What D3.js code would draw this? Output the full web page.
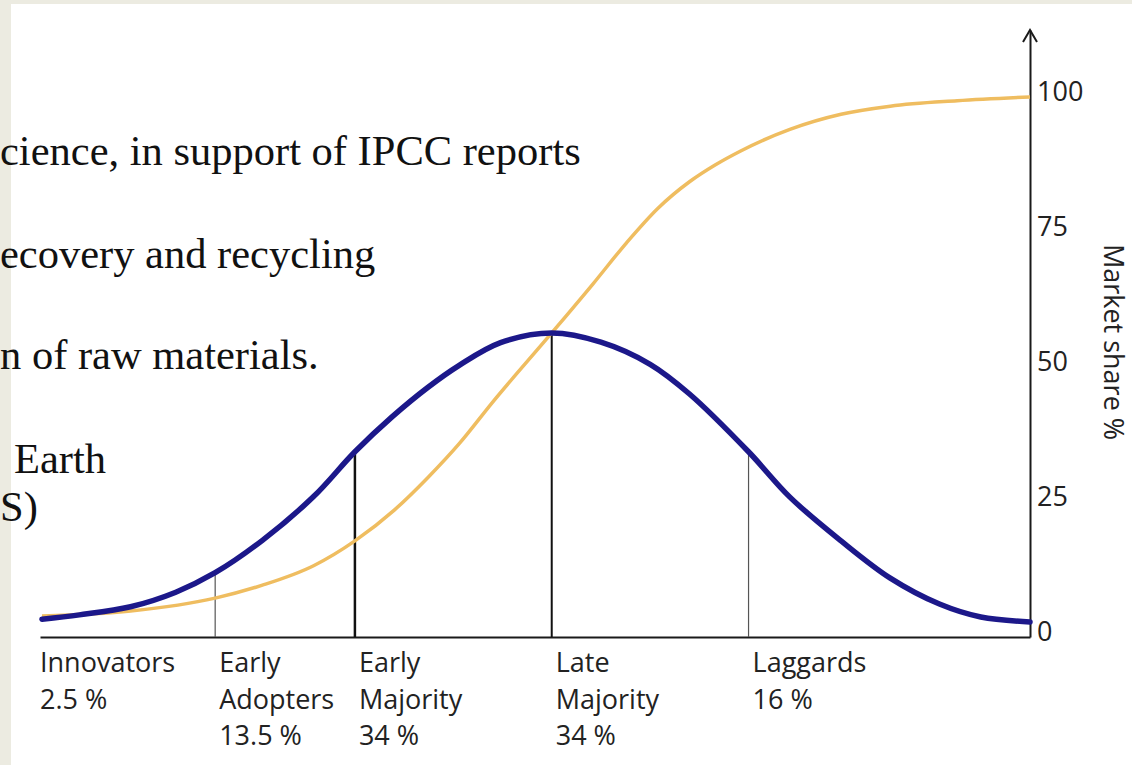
<!DOCTYPE html>
<html lang="en">
<head>
  <meta charset="UTF-8">
  <title>Diffusion of Innovations</title>
  <script src="https://d3js.org/d3.v7.min.js"></script>
  <style>
    body {
      margin: 0;
      background: #ecebe1;
    }
    .slide-text {
      font-family: "Liberation Serif", serif;
      font-size: 42.5px;
      fill: #111;
    }
    .label {
      font-family: "Open Sans", sans-serif;
      font-size: 27px;
      fill: #222;
    }
    .y-axis text {
      font-family: "Open Sans", sans-serif;
      font-size: 27px;
      fill: #222;
    }
  </style>
</head>
<body>
  <svg width="1132" height="765"></svg>

  <script>
    // adoption curve (bell), x in standard deviations from the mean
    const adoptionSd    = [-2.59, -2.40, -2.14, -1.91, -1.71, -1.47, -1.21, -1.00, -0.81, -0.63, -0.47, -0.26, 0, 0.25, 0.50, 0.70, 1.00, 1.21, 1.47, 1.72, 1.97, 2.18, 2.43];
    const adoptionShare = [3.3, 4.1, 5.6, 8.3, 11.9, 17.9, 26.0, 34.3, 40.8, 46.2, 50.3, 54.5, 56.3, 54.6, 50.5, 45.0, 34.3, 25.9, 17.8, 10.9, 6.1, 3.7, 2.8];

    // cumulative market share (S curve)
    const cumulativeSd    = [-2.59, -2.14, -1.71, -1.47, -1.21, -1.00, -0.80, -0.63, -0.47, -0.30, 0, 0.21, 0.38, 0.54, 0.70, 0.83, 0.96, 1.21, 1.47, 1.72, 2.06, 2.43];
    const cumulativeShare = [3.9, 4.8, 7.2, 9.6, 13.2, 17.8, 23.5, 29.5, 35.8, 43.5, 56.3, 65.4, 73.0, 79.4, 84.3, 87.4, 90.0, 94.0, 96.8, 98.3, 99.3, 100];

    // segment boundaries and where they meet the bell curve
    const boundarySd    = [-1.71, -1.00, 0, 1.00];
    const boundaryShare = [11.9, 34.3, 56.3, 34.3];

    const segmentNames  = [["Innovators"], ["Early", "Adopters"], ["Early", "Majority"], ["Late", "Majority"], ["Laggards"]];
    const segmentShares = ["2.5 %", "13.5 %", "34 %", "34 %", "16 %"];

    const yTicks = [0, 25, 50, 75, 100];

    const slideLines = [
      {text: "cience, in support of IPCC reports", x: 0, y: 165},
      {text: "ecovery and recycling", x: 0, y: 268},
      {text: "n of raw materials.", x: 0, y: 369},
      {text: "Earth", x: 14, y: 473},
      {text: "S)", x: 0, y: 521}
    ];

    const svg = d3.select("svg"),
          margin = {top: 30, right: 102, bottom: 128, left: 40},
          width = +svg.attr("width") - margin.left - margin.right,
          height = +svg.attr("height") - margin.top - margin.bottom;

    // slide background + white picture area
    svg.append("rect")
       .attr("x", 11).attr("y", 4)
       .attr("width", 1132).attr("height", 765)
       .attr("fill", "#fff");

    svg.selectAll(".slide-text")
       .data(slideLines)
       .enter()
       .append("text")
         .attr("class", "slide-text")
         .attr("x", d => d.x)
         .attr("y", d => d.y)
         .text(d => d.text);

    const g = svg.append("g")
                 .attr("transform", `translate(${margin.left},${margin.top})`);

    const x = d3.scaleLinear()
                .domain([-2.6, 2.43])
                .range([0, width]);

    const y = d3.scaleLinear()
                .domain([0, 112.4])
                .range([height, 0]);

    // X baseline
    g.append("g")
      .attr("transform", `translate(0,${height})`)
      .call(d3.axisBottom(x).tickValues([]).tickSizeOuter(0))
      .select(".domain")
        .attr("stroke", "#1a1a1a")
        .attr("stroke-width", 2);

    // Y axis on the right
    const yAxis = g.append("g")
      .attr("class", "y-axis")
      .attr("transform", `translate(${width},0)`)
      .call(d3.axisRight(y).tickValues(yTicks).tickSize(0).tickPadding(7).tickSizeOuter(0));
    yAxis.select(".domain")
      .attr("stroke", "#1a1a1a")
      .attr("stroke-width", 2);
    yAxis.selectAll("text")
      .attr("dy", "0.12em");

    // arrow head
    g.append("path")
      .attr("d", `M${width - 7},${y(112.4) + 12}L${width},${y(112.4)}L${width + 7},${y(112.4) + 12}`)
      .attr("fill", "none")
      .attr("stroke", "#1a1a1a")
      .attr("stroke-width", 2);

    // segment boundaries
    g.selectAll(".boundary")
      .data(boundarySd)
      .enter()
      .append("line")
        .attr("class", "boundary")
        .attr("x1", d => x(d))
        .attr("x2", d => x(d))
        .attr("y1", y(0))
        .attr("y2", (d, i) => y(boundaryShare[i]))
        .attr("stroke", (d, i) => (i === 0 || i === 3) ? "#555" : "#111")
        .attr("stroke-width", (d, i) => i === 1 ? 2.5 : (i === 2 ? 2 : 1.2));

    // S curve
    const cumulative = cumulativeSd.map((d, i) => [d, cumulativeShare[i]]);
    g.append("path")
      .datum(cumulative)
      .attr("fill", "none")
      .attr("stroke", "#efbd60")
      .attr("stroke-width", 3.5)
      .attr("d", d3.line().x(d => x(d[0])).y(d => y(d[1])).curve(d3.curveMonotoneX));

    // bell curve
    const adoption = adoptionSd.map((d, i) => [d, adoptionShare[i]]);
    g.append("path")
      .datum(adoption)
      .attr("fill", "none")
      .attr("stroke", "#1c188a")
      .attr("stroke-width", 5.5)
      .attr("stroke-linecap", "round")
      .attr("d", d3.line().x(d => x(d[0])).y(d => y(d[1])).curve(d3.curveCatmullRom));

    // segment labels
    const starts = [x.domain()[0]].concat(boundarySd);
    const labels = g.selectAll(".segment")
      .data(segmentNames)
      .enter()
      .append("text")
        .attr("class", "label")
        .attr("x", (d, i) => x(starts[i]) + (i === 0 ? 0 : 4))
        .attr("y", height + 35);
    labels.each(function(d, i) {
      const t = d3.select(this);
      const lines = d.concat([segmentShares[i]]);
      lines.forEach((line, j) => {
        t.append("tspan")
          .attr("x", x(starts[i]) + (i === 0 ? 0 : 4))
          .attr("dy", j === 0 ? 0 : 36.5)
          .text(line);
      });
    });

    // axis title
    svg.append("text")
       .attr("class", "label")
       .attr("transform", `translate(1104,342) rotate(90)`)
       .attr("text-anchor", "middle")
       .text("Market share %");
  </script>
</body>
</html>
